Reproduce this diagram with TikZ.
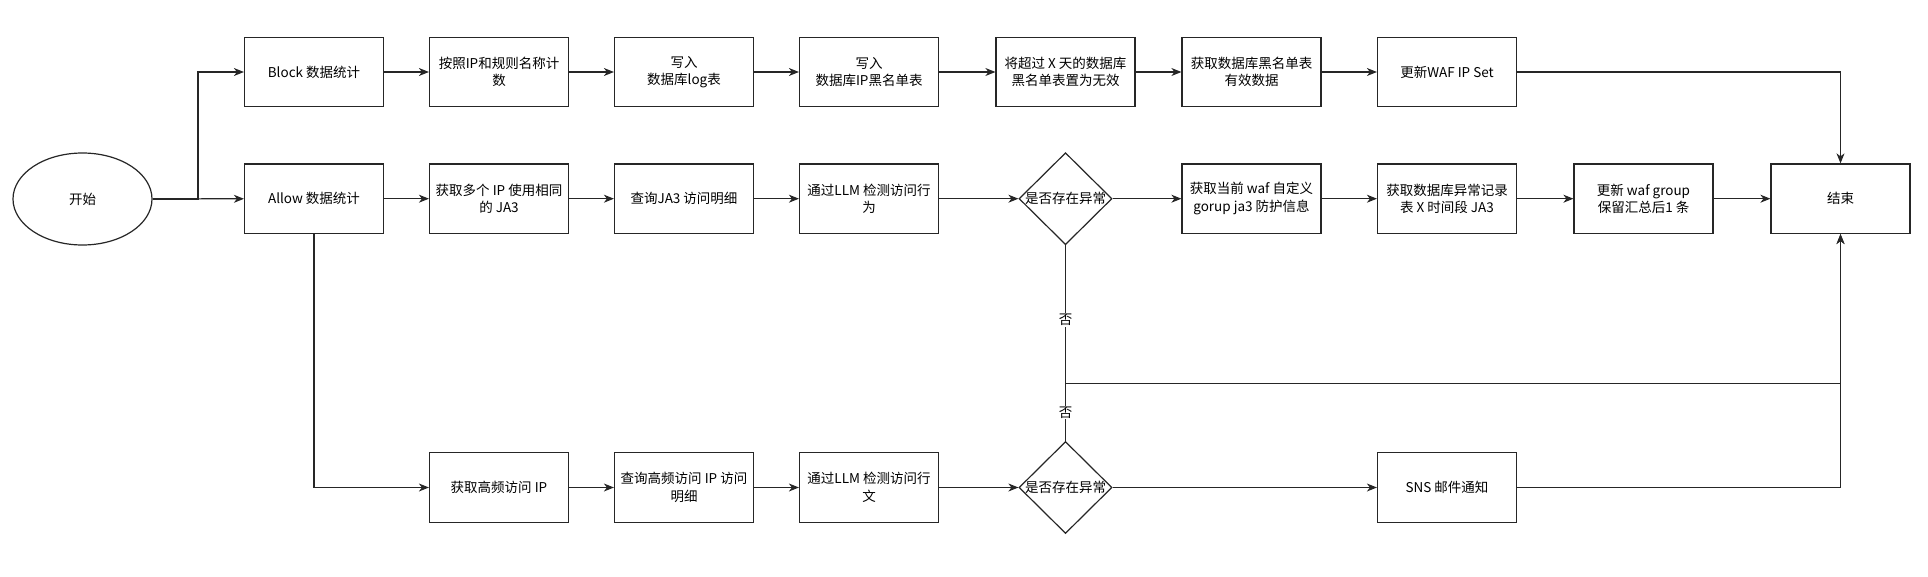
\documentclass[tikz,border=0pt]{standalone}
\usepackage{fontspec}
\setmainfont{Noto Sans CJK SC}
\usetikzlibrary{shapes.geometric,arrows.meta}
\tikzset{
  txt/.style={font=\fontsize{13.5pt}{17.5pt}\selectfont, align=center},
  box/.style={txt, draw=black!85, line width=1.2pt, rectangle, minimum width=139pt, minimum height=69.5pt, inner sep=0pt},
  oval/.style={txt, draw=black!85, line width=1.2pt, ellipse, minimum width=139pt, minimum height=92pt, inner sep=0pt},
  dec/.style={draw=black!85, line width=1.2pt, diamond, minimum width=93pt, minimum height=92pt, inner sep=0pt},
  conn/.style={draw=black!85, line width=1.2pt},
  arr/.style={conn, -{Stealth[length=10pt,width=8pt,inset=3pt]}},
  lab/.style={txt, fill=white, inner sep=1pt}
}
\begin{document}
\begin{tikzpicture}[x=1pt,y=-1pt]
\useasboundingbox (0,0) rectangle (1928,576);
% start
\node[oval] (start) at (82.5,199) {开始};
% row 1
\node[box] (block) at (314,72) {Block 数据统计};
\node[box] (b2) at (499,72) {按照IP和规则名称计\\数};
\node[box] (b3) at (684,72) {写入\\数据库log表};
\node[box] (b4) at (869,72) {写入\\数据库IP黑名单表};
\node[box] (b5) at (1065.5,72) {将超过 X 天的数据库\\黑名单表置为无效};
\node[box] (b6) at (1251.5,72) {获取数据库黑名单表\\有效数据};
\node[box] (b7) at (1447,72) {更新WAF IP Set};
% row 2
\node[box] (allow) at (314,198.7) {Allow 数据统计};
\node[box] (a2) at (499,198.7) {获取多个 IP 使用相同\\的 JA3};
\node[box] (a3) at (684,198.7) {查询JA3 访问明细};
\node[box] (a4) at (869,198.7) {通过LLM 检测访问行\\为};
\node[dec, label={[txt]center:是否存在异常}] (d1) at (1065.5,198.7) {};
\node[box] (a6) at (1251.5,198.7) {获取当前 waf 自定义\\gorup ja3 防护信息};
\node[box] (a7) at (1447,198.7) {获取数据库异常记录\\表 X 时间段 JA3};
\node[box] (a8) at (1643.5,198.7) {更新 waf group\\保留汇总后1 条};
\node[box] (end) at (1840.5,198.7) {结束};
% row 3
\node[box] (h1) at (499,487.5) {获取高频访问 IP};
\node[box] (h2) at (684,487.5) {查询高频访问 IP 访问\\明细};
\node[box] (h3) at (869,487.5) {通过LLM 检测访问行\\文};
\node[dec, label={[txt]center:是否存在异常}] (d2) at (1065.5,487.5) {};
\node[box] (sns) at (1447,487.5) {SNS 邮件通知};
% helper coordinates
\coordinate (split) at (198,199);
\coordinate (merge) at (1065.5,383.3);
% connectors
\draw[arr] (start.east) -- (split) |- (block.west);
\draw[arr] (start) -- (allow);
\draw[arr] (block) -- (b2);
\draw[arr] (b2) -- (b3);
\draw[arr] (b3) -- (b4);
\draw[arr] (b4) -- (b5);
\draw[arr] (b5) -- (b6);
\draw[arr] (b6) -- (b7);
\draw[arr] (b7.east) -| (end.north);
\draw[arr] (allow) -- (a2);
\draw[arr] (a2) -- (a3);
\draw[arr] (a3) -- (a4);
\draw[arr] (a4) -- (d1);
\draw[arr] (d1) -- (a6);
\draw[arr] (a6) -- (a7);
\draw[arr] (a7) -- (a8);
\draw[arr] (a8) -- (end);
\draw[arr] (allow.south) |- (h1.west);
\draw[arr] (h1) -- (h2);
\draw[arr] (h2) -- (h3);
\draw[arr] (h3) -- (d2);
\draw[arr] (d2) -- (sns);
\draw[arr] (sns.east) -| (end.south);
\draw[arr] (d1.south) -- (merge) -| (end.south);
\draw[conn] (d2.north) -- (merge);
\node[lab] (no1) at (1065.5,320) {否};
\node[lab] (no2) at (1065.5,412.5) {否};
\end{tikzpicture}
\end{document}
